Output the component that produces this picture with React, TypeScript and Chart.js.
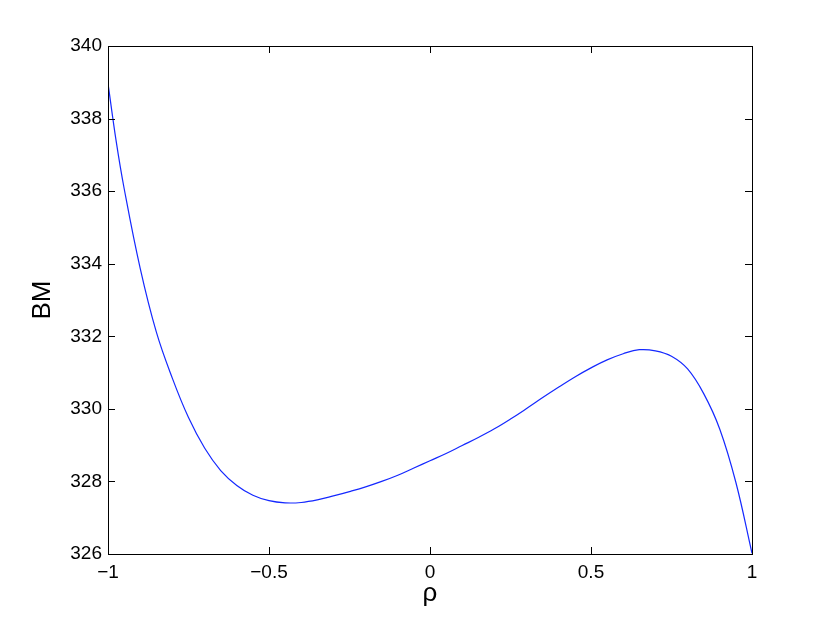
import React, { useEffect, useRef } from "react";
import { Chart, registerables } from "chart.js";

Chart.register(...registerables);

const rhoValues = [
  -1, -0.975, -0.95, -0.9, -0.85, -0.8, -0.75, -0.7, -0.65, -0.6, -0.55, -0.5,
  -0.45, -0.4, -0.35, -0.3, -0.25, -0.2, -0.15, -0.1, -0.05, 0, 0.05, 0.1, 0.15,
  0.2, 0.25, 0.3, 0.35, 0.4, 0.45, 0.5, 0.55, 0.6, 0.65, 0.7, 0.75, 0.8, 0.85,
  0.9, 0.95, 1,
];
const bmValues = [
  338.97, 337.4, 336.08, 333.87, 332.12, 330.84, 329.76, 328.92, 328.3, 327.89,
  327.62, 327.47, 327.41, 327.42, 327.49, 327.6, 327.72, 327.85, 328.0, 328.17,
  328.37, 328.57, 328.77, 328.99, 329.21, 329.45, 329.72, 330.01, 330.31, 330.6,
  330.88, 331.13, 331.35, 331.52, 331.63, 331.6, 331.45, 331.1, 330.42,
  329.44, 327.97, 326.02,
];
const xTicks = [-1, -0.5, 0, 0.5, 1];
const yTicks = [326, 328, 330, 332, 334, 336, 338, 340];

const FONT = '"Liberation Sans", Arial, Helvetica, sans-serif';

const framePlugin = {
  id: "frameTicks",
  afterDraw(chart: any) {
    const { ctx, chartArea, scales } = chart;
    const { left, right, top, bottom } = chartArea;
    const len = 7;
    ctx.save();
    ctx.strokeStyle = "#000";
    ctx.lineWidth = 1;
    ctx.beginPath();
    for (const v of xTicks) {
      const px = Math.round(scales.x.getPixelForValue(v)) + 0.5;
      ctx.moveTo(px, bottom);
      ctx.lineTo(px, bottom - len);
      ctx.moveTo(px, top);
      ctx.lineTo(px, top + len);
    }
    for (const v of yTicks) {
      const py = Math.round(scales.y.getPixelForValue(v)) + 0.5;
      ctx.moveTo(left, py);
      ctx.lineTo(left + len, py);
      ctx.moveTo(right, py);
      ctx.lineTo(right - len, py);
    }
    ctx.stroke();
    ctx.strokeRect(
      Math.round(left) + 0.5,
      Math.round(top) + 0.5,
      Math.round(right - left),
      Math.round(bottom - top)
    );
    ctx.restore();
  },
};

export default function App() {
  const ref = useRef<HTMLCanvasElement | null>(null);

  useEffect(() => {
    if (!ref.current) return;
    const data = rhoValues.map((x, i) => ({ x, y: bmValues[i] }));
    const chart = new Chart(ref.current, {
      type: "line",
      data: {
        datasets: [
          {
            data,
            borderColor: "rgb(20,40,255)",
            borderWidth: 1.2,
            pointRadius: 0,
            fill: false,
            tension: 0.4,
          },
        ],
      },
      options: {
        animation: false,
        responsive: false,
        maintainAspectRatio: false,
        layout: { padding: { left: 0, top: 46, right: 78, bottom: 0 } },
        plugins: {
          legend: { display: false },
          tooltip: { enabled: false },
        },
        scales: {
          x: {
            type: "linear",
            min: -1,
            max: 1,
            afterFit: (s: any) => {
              s.height = 71;
            },
            afterBuildTicks: (s: any) => {
              s.ticks = xTicks.map((v) => ({ value: v }));
            },
            grid: { display: false, drawTicks: false },
            border: { display: false },
            ticks: {
              padding: 7,
              color: "#000",
              font: { family: FONT, size: 19 },
              callback: (v: any) => String(v).replace("-", "\u2212"),
            },
            title: {
              display: true,
              text: "ρ",
              color: "#000",
              font: { family: FONT, size: 26, lineHeight: 1 },
              padding: { top: 0, bottom: 18 },
            },
          },
          y: {
            type: "linear",
            min: 326,
            max: 340,
            afterFit: (s: any) => {
              s.width = 108;
            },
            afterBuildTicks: (s: any) => {
              s.ticks = yTicks.map((v) => ({ value: v }));
            },
            grid: { display: false, drawTicks: false },
            border: { display: false },
            ticks: {
              padding: 6,
              color: "#000",
              font: { family: FONT, size: 19 },
            },
            title: {
              display: true,
              text: "BM",
              color: "#000",
              font: { family: FONT, size: 26, lineHeight: 1 },
              padding: { top: 30, bottom: 0 },
            },
          },
        },
      },
      plugins: [framePlugin],
    });
    return () => chart.destroy();
  }, []);

  return (
    <div style={{ position: "absolute", left: 0, top: 0, width: 830, height: 625, background: "#fff" }}>
      <canvas ref={ref} width={830} height={625} />
    </div>
  );
}
